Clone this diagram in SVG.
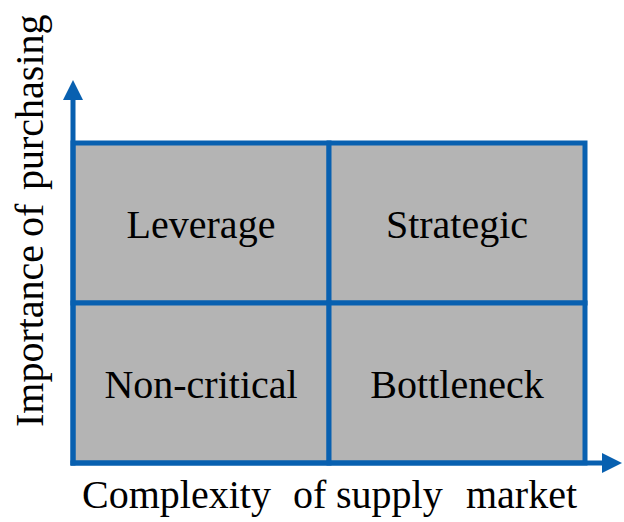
<svg xmlns="http://www.w3.org/2000/svg" width="624" height="522" viewBox="0 0 624 522">
  <defs>
    <style>
      .cell { fill: #B4B4B4; stroke: #0860B0; stroke-width: 5; }
      .lbl { font-family: "Liberation Serif", "Times New Roman", serif; font-size: 40px; fill: #000; text-anchor: middle; }
      .axlbl { font-family: "Liberation Serif", "Times New Roman", serif; font-size: 40px; fill: #000; }
      .axis { stroke: #0860B0; stroke-width: 5; fill: none; }
    </style>
    <marker id="arrow" viewBox="0 0 10 10" refX="2" refY="5" markerWidth="4" markerHeight="4" markerUnits="strokeWidth" orient="auto">
      <path d="M0,0 L10,5 L0,10 Z" fill="#0860B0"/>
    </marker>
  </defs>
  <rect width="624" height="522" fill="#FFFFFF"/>
  <g id="leverage">
    <rect class="cell" x="73" y="143" width="256" height="160"/>
    <text class="lbl" x="201" y="238">Leverage</text>
  </g>
  <g id="strategic">
    <rect class="cell" x="329" y="143" width="256" height="160"/>
    <text class="lbl" x="457" y="238">Strategic</text>
  </g>
  <g id="non-critical">
    <rect class="cell" x="73" y="303" width="256" height="160"/>
    <text class="lbl" x="201" y="398">Non-critical</text>
  </g>
  <g id="bottleneck">
    <rect class="cell" x="329" y="303" width="256" height="160"/>
    <text class="lbl" x="457" y="398">Bottleneck</text>
  </g>
  <g id="connectors">
    <line class="axis" x1="73" y1="465.5" x2="73" y2="96" marker-end="url(#arrow)"/>
    <line class="axis" x1="70.5" y1="463" x2="606" y2="463" marker-end="url(#arrow)"/>
  </g>
  <g id="axis-labels">
    <text class="axlbl" y="508"><tspan x="82">Complexity</tspan><tspan x="293">of</tspan><tspan x="336">supply</tspan><tspan x="466">market</tspan></text>
    <text class="axlbl" transform="translate(43,0) rotate(-90)"><tspan x="-427">Importance</tspan><tspan x="-237">of</tspan><tspan x="-190">purchasing</tspan></text>
  </g>
</svg>
